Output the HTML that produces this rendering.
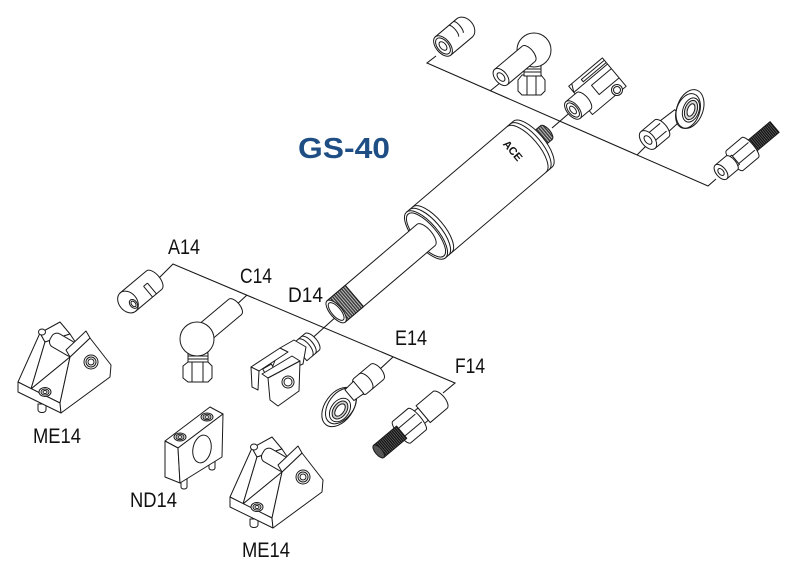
<!DOCTYPE html>
<html><head><meta charset="utf-8"><style>
html,body{margin:0;padding:0;background:#fff;}
svg{display:block;}
</style></head><body>
<svg width="792" height="568" viewBox="0 0 792 568" xmlns="http://www.w3.org/2000/svg">
<defs>
<pattern id="thr" patternUnits="userSpaceOnUse" width="2.4" height="80" x="0" y="-40"><rect width="2.4" height="80" fill="#3c3c3c"/><rect width="0.9" height="80" fill="#c8c8c8"/></pattern>
<pattern id="thk" patternUnits="userSpaceOnUse" width="2" height="80" x="0" y="-40"><rect width="2" height="80" fill="#111"/><rect width="0.6" height="80" fill="#777"/></pattern>
</defs>
<rect width="792" height="568" fill="#fff"/>

<!-- connector lines -->
<g fill="none" stroke="#1a1a1a" stroke-width="1.1">
<polyline points="436,56 427,63 708,186 716,179"/>
<line x1="490" y1="91" x2="500" y2="83"/>
<line x1="637" y1="155" x2="647" y2="145"/>
<line x1="552" y1="128" x2="574" y2="109"/>
<polyline points="159,278 173,264 455,383 443,393"/>
<line x1="247" y1="295" x2="234" y2="307"/>
<line x1="393" y1="357" x2="380" y2="369"/>
<line x1="338" y1="315" x2="308" y2="342"/>
</g>

<g fill="#fff" stroke="#1a1a1a" stroke-width="1" stroke-linejoin="round">

<!-- main cylinder -->
<g transform="translate(426,235) rotate(-40.4)">
<path d="M144,-9 L158,-9 A4,9 0 0 1 158,9 L144,9 Z" fill="url(#thr)"/>
<path d="M0,-30 L140,-30 A12,30 0 0 1 140,30 L0,30 Z"/>
<path d="M136,-30 A12,30 0 0 1 136,30 M132,-30 A12,30 0 0 1 132,30" fill="none"/>
<path d="M4,-30 A12,30 0 0 1 4,30 M8,-30 A12,30 0 0 1 8,30" fill="none"/>
<ellipse cx="0" cy="0" rx="12" ry="30"/>
<ellipse cx="0" cy="0" rx="10.5" ry="27.5" fill="none"/>
<path d="M0,-14 L-118,-14 L-118,14 L0,14 A6,14 0 0 0 0,-14 Z"/>
<rect x="-118" y="-14" width="24" height="28" fill="url(#thr)"/>
<ellipse cx="-118" cy="0" rx="6" ry="14"/>
<ellipse cx="-118" cy="0" rx="4.5" ry="11" fill="none"/>
<text transform="translate(117,-8) rotate(90)" x="0" y="0" font-family="Liberation Sans, sans-serif" font-weight="bold" font-size="11" fill="#111" stroke="none" text-anchor="middle">ACE</text>
</g>

<!-- U1 -->
<g transform="translate(443,46) rotate(-40)">
<path d="M0,-12 L28,-12 A9,12 0 0 1 28,12 L0,12 Z"/>
<path d="M18,-12 A3,8 0 0 1 18,3 M24,-12 A3,8 0 0 1 24,3" fill="none"/>
<ellipse cx="0" cy="0" rx="7" ry="12"/>
<ellipse cx="0" cy="0" rx="5.5" ry="9.5" fill="none"/>
<ellipse cx="0" cy="0" rx="3" ry="5"/>
</g>

<!-- U2 -->
<path d="M518,80 L522,75 L541,75 L545,80 L545,91 L541,95 L522,95 L518,91 Z"/>
<path d="M527,75 L527,95 M536,75 L536,95" fill="none"/>
<rect x="524" y="66" width="17" height="10"/>
<path d="M524,69 L541,69 M524,72 L541,72" fill="none"/>
<circle cx="534" cy="50" r="17"/>
<g transform="translate(501,77) rotate(-40)">
<path d="M0,-10 L36,-10 A5,10 0 0 1 36,10 L0,10 Z"/>
<ellipse cx="0" cy="0" rx="6" ry="10"/>
<ellipse cx="0" cy="0" rx="3" ry="5"/>
</g>

<!-- U3 fork -->
<g transform="translate(573,110) rotate(-40)">
<path d="M12,-21 L56,-21 L56,16 L12,16 Z"/>
<path d="M12,-13 L56,-13 M16,-21 L12,-13" fill="none"/>
<path d="M56,-18 L26,-18 L26,-15 L56,-15" fill="none"/>
<path d="M56,-7 L30,-7 L30,5 L56,5" fill="none"/>
<path d="M0,-11 L14,-11 A5,11 0 0 1 14,11 L0,11 Z"/>
<ellipse cx="0" cy="0" rx="6" ry="11"/>
<ellipse cx="0" cy="0" rx="4.5" ry="8.5" fill="none"/>
<ellipse cx="0" cy="0" rx="2.5" ry="4.5"/>
</g>
<circle cx="617" cy="90" r="5.5"/>
<circle cx="617" cy="90" r="3.5" fill="none"/>

<!-- U4 rod end -->
<g transform="translate(648,140) rotate(-40)">
<path d="M18,-7 L40,-6 L40,6 L18,7 Z"/>
</g>
<ellipse cx="690" cy="109" rx="13" ry="20" transform="rotate(20 690 109)"/>
<ellipse cx="688" cy="111" rx="11.5" ry="18" transform="rotate(20 688 111)" fill="none"/>
<ellipse cx="691" cy="110" rx="8" ry="12.5" transform="rotate(20 691 110)"/>
<ellipse cx="691" cy="110" rx="6" ry="10" transform="rotate(20 691 110)" fill="#d8d8d8"/>
<ellipse cx="691" cy="110" rx="3.5" ry="6.5" transform="rotate(20 691 110)"/>
<g transform="translate(648,140) rotate(-40)">
<path d="M0,-11 L18,-11 A5,11 0 0 1 18,11 L0,11 Z"/>
<path d="M0,-5 L20,-5 M0,5 L20,5" fill="none"/>
<ellipse cx="0" cy="0" rx="6.5" ry="11"/>
<ellipse cx="0" cy="0" rx="3" ry="5"/>
</g>

<!-- U5 -->
<g transform="translate(721,172) rotate(-40)">
<rect x="38" y="-7" width="32" height="14" fill="url(#thk)"/>
<path d="M18,-13 L38,-13 A4,13 0 0 1 38,13 L18,13 A4,13 0 0 1 18,-13 Z"/>
<path d="M16,-5 L40,-5 M16,5 L40,5" fill="none"/>
<path d="M13,-6 L19,-6 L19,6 L13,6 Z"/>
<path d="M0,-9 L14,-9 A4,9 0 0 1 14,9 L0,9 Z"/>
<ellipse cx="0" cy="0" rx="5" ry="9"/>
<ellipse cx="0" cy="0" rx="2.5" ry="4"/>
</g>

<!-- A14 -->
<g transform="translate(128,302) rotate(-40)">
<path d="M0,-12 L34,-12 A6,12 0 0 1 34,12 L0,12 Z"/>
<path d="M22,-2 L22,12 M27,-2 L27,12 M22,-2 L27,-2" fill="none"/>
<ellipse cx="0" cy="0" rx="9" ry="12"/>
<ellipse cx="3" cy="5" rx="3.5" ry="5"/>
<ellipse cx="3" cy="5" rx="2" ry="3.2" fill="none"/>
</g>

<!-- C14 -->
<g transform="translate(235,307) rotate(-40)">
<path d="M-49,-10 L0,-10 A5,10 0 0 1 0,10 L-49,10 Z"/>
</g>
<rect x="188" y="353" width="20" height="10"/>
<path d="M188,356 L208,356 M188,359 L208,359" fill="none"/>
<path d="M183,366 L188,362 L208,362 L212,366 L212,378 L208,382 L188,382 L183,378 Z"/>
<path d="M192,362 L192,382 M203,362 L203,382" fill="none"/>
<circle cx="197" cy="339" r="17"/>

<!-- D14 fork -->
<g transform="translate(312,342) rotate(-40)">
<path d="M-16,-11 L0,-11 A5,11 0 0 1 0,11 L-16,11 Z"/>
<path d="M-5,-11 A5,11 0 0 1 -5,11 M-9,-11 A5,11 0 0 1 -9,11" fill="none"/>
</g>
<polygon points="280,348 294,340 306,347 303,364 268,378"/>
<polygon points="251,367 280,348 288,352 259,371"/>
<polygon points="251,367 259,371 258,390 252,387"/>
<rect x="264" y="366" width="10" height="9" transform="rotate(-30 269 370)"/>
<polygon points="262,374 292,356 300,361 268,378"/>
<polygon points="268,378 300,361 299,391 278,406 270,400"/>
<circle cx="288" cy="382" r="6"/>
<circle cx="288" cy="382" r="4" fill="none"/>

<!-- E14 -->
<ellipse cx="339" cy="407" rx="14" ry="22" transform="rotate(36 339 407)"/>
<ellipse cx="341" cy="406" rx="12.5" ry="20" transform="rotate(36 341 406)" fill="none"/>
<ellipse cx="340" cy="410" rx="9" ry="13" transform="rotate(36 340 410)"/>
<ellipse cx="340" cy="410" rx="6.5" ry="10" transform="rotate(36 340 410)" fill="#d0d0d0"/>
<ellipse cx="340" cy="410" rx="4" ry="7" transform="rotate(36 340 410)"/>
<g transform="translate(377,372) rotate(-40)">
<path d="M-22,-10 L0,-10 A5,10 0 0 1 0,10 L-22,10 A5,10 0 0 1 -22,-10 Z"/>
<path d="M-15,-10 A5,10 0 0 1 -15,10" fill="none"/>
<path d="M-36,-7 L-24,-8 L-24,8 L-36,7 Z"/>
</g>

<!-- F14 -->
<g transform="translate(440,400) rotate(-40)">
<path d="M-22,-11 L0,-11 A5,11 0 0 1 0,11 L-22,11 Z"/>
<path d="M-30,-8 L-22,-8 L-22,8 L-30,8 Z"/>
<path d="M-27,-8 L-27,8" fill="none"/>
<path d="M-50,-14 L-30,-14 A4,14 0 0 1 -30,14 L-50,14 A4,14 0 0 1 -50,-14 Z"/>
<path d="M-52,-5 L-28,-5 M-52,5 L-28,5" fill="none"/>
<rect x="-80" y="-8" width="30" height="16" fill="url(#thk)"/>
<ellipse cx="-80" cy="0" rx="3.5" ry="8" fill="#555"/>
</g>

<!-- ND14 -->
<path d="M181,480 L181,487 A3,2 0 0 0 187,487 L187,478 Z"/>
<path d="M209,462 L209,468 A3,2 0 0 0 215,468 L215,460 Z"/>
<polygon points="165,441 210,407 223,414 178,448"/>
<polygon points="165,441 178,448 180,483 165,477"/>
<polygon points="178,448 223,414 222,457 180,483"/>
<ellipse cx="202" cy="449" rx="9" ry="14" transform="rotate(12 202 449)"/>
<ellipse cx="180" cy="437" rx="6" ry="4"/>
<ellipse cx="180" cy="437" rx="4" ry="2.7" fill="none"/>
<ellipse cx="180" cy="437" rx="2" ry="1.4" fill="none"/>
<ellipse cx="207" cy="417" rx="6" ry="4"/>
<ellipse cx="207" cy="417" rx="4" ry="2.7" fill="none"/>
<ellipse cx="207" cy="417" rx="2" ry="1.4" fill="none"/>

<!-- ME14 left -->
<g transform="translate(18,322)">
<path d="M20,82 L20,88 A4,2.5 0 0 0 28,88 L28,82 Z"/>
<polygon points="0,60 22,11 27,20 13,67"/>
<polygon points="22,11 42,0 52,12 27,20"/>
<polygon points="27,20 52,12 60,24 52,35 13,67"/>
<rect x="-15" y="-7.5" width="30" height="15" rx="6" transform="translate(46,23) rotate(30)"/>
<polygon points="13,67 52,35 42,81"/>
<polygon points="0,60 42,81 43,91 0,70"/>
<polygon points="52,35 72,16 93,43 92,55 43,91 42,81"/>
<polygon points="52,35 48,28 68,9 72,16"/>
<ellipse cx="24" cy="10" rx="3.5" ry="3"/>
<circle cx="73" cy="40" r="7"/>
<circle cx="73" cy="40" r="5" fill="none"/>
<circle cx="73" cy="40" r="3" fill="none"/>
<ellipse cx="27" cy="70" rx="6" ry="4.5"/>
<ellipse cx="27" cy="70" rx="4" ry="3" fill="none"/>
<ellipse cx="27" cy="70" rx="2" ry="1.5" fill="none"/>
</g>

<!-- ME14 bottom -->
<g transform="translate(230,437)">
<path d="M20,82 L20,88 A4,2.5 0 0 0 28,88 L28,82 Z"/>
<polygon points="0,60 22,11 27,20 13,67"/>
<polygon points="22,11 42,0 52,12 27,20"/>
<polygon points="27,20 52,12 60,24 52,35 13,67"/>
<rect x="-15" y="-7.5" width="30" height="15" rx="6" transform="translate(46,23) rotate(30)"/>
<polygon points="13,67 52,35 42,81"/>
<polygon points="0,60 42,81 43,91 0,70"/>
<polygon points="52,35 72,16 93,43 92,55 43,91 42,81"/>
<polygon points="52,35 48,28 68,9 72,16"/>
<ellipse cx="24" cy="10" rx="3.5" ry="3"/>
<circle cx="73" cy="40" r="7"/>
<circle cx="73" cy="40" r="5" fill="none"/>
<circle cx="73" cy="40" r="3" fill="none"/>
<ellipse cx="27" cy="70" rx="6" ry="4.5"/>
<ellipse cx="27" cy="70" rx="4" ry="3" fill="none"/>
<ellipse cx="27" cy="70" rx="2" ry="1.5" fill="none"/>
</g>
</g>

<!-- labels -->
<g font-family="Liberation Sans, Arial, sans-serif" font-size="21" fill="#111">
<text x="168" y="254" textLength="32" lengthAdjust="spacingAndGlyphs">A14</text>
<text x="240" y="283" textLength="32" lengthAdjust="spacingAndGlyphs">C14</text>
<text x="288" y="302" textLength="35" lengthAdjust="spacingAndGlyphs">D14</text>
<text x="395" y="345" textLength="32" lengthAdjust="spacingAndGlyphs">E14</text>
<text x="455" y="373" textLength="30" lengthAdjust="spacingAndGlyphs">F14</text>
<text x="33" y="443" textLength="48" lengthAdjust="spacingAndGlyphs">ME14</text>
<text x="130" y="507" textLength="47" lengthAdjust="spacingAndGlyphs">ND14</text>
<text x="242" y="557" textLength="48" lengthAdjust="spacingAndGlyphs">ME14</text>
</g>
<text x="298" y="158" font-family="Liberation Sans, Arial, sans-serif" font-weight="bold" font-size="29" fill="#1f4e85" textLength="92" lengthAdjust="spacingAndGlyphs">GS-40</text>
</svg>
</body></html>
